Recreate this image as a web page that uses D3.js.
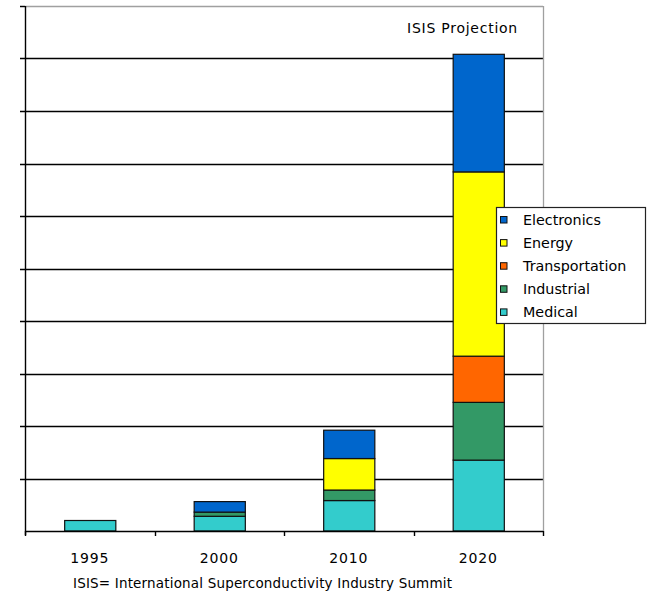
<!DOCTYPE html>
<html>
<head>
<meta charset="utf-8">
<script src="https://cdn.jsdelivr.net/npm/d3@7"></script>
<style>
  html, body { margin: 0; padding: 0; background: #fff; }
  svg { display: block; }
  text { font-family: "DejaVu Sans", Verdana, sans-serif; fill: #000; }
</style>
</head>
<body>
<svg id="chart" width="651" height="593"></svg>
<script>
// Market segments (bottom to top in each stack)
const segments = ["Medical", "Industrial", "Transportation", "Energy", "Electronics"];
const years = ["1995", "2000", "2010", "2020"];

// Segment values per year (US$ billions)
const medical        = [2.0, 2.8, 5.8, 13.5];
const industrial     = [0.0, 0.8, 2.0, 11.0];
const transportation = [0.0, 0.0, 0.0, 8.8];
const energy         = [0.0, 0.0, 6.0, 35.1];
const electronics    = [0.0, 2.0, 5.4, 22.4];

const colors = ["#33CCCC", "#339966", "#FF6600", "#FFFF00", "#0066CC"];
const legendOrder = ["Electronics", "Energy", "Transportation", "Industrial", "Medical"];
const yTicks = [0, 10, 20, 30, 40, 50, 60, 70, 80, 90, 100];

const rows = years.map((yr, i) => ({
  year: yr,
  Medical: medical[i],
  Industrial: industrial[i],
  Transportation: transportation[i],
  Energy: energy[i],
  Electronics: electronics[i]
}));

const svg = d3.select("#chart");
const plotLeft = 25, plotRight = 543, plotTop = 6, plotBottom = 531;

const xAxisScale = d3.scaleBand().domain(years).range([plotLeft, plotRight]).padding(0);
const xBar = d3.scaleBand().domain(years).range([plotLeft, plotRight])
  .paddingInner(0.605).paddingOuter(0.3025);
const y = d3.scaleLinear().domain([0, 100]).range([plotBottom, plotTop]);
const color = d3.scaleOrdinal().domain(segments).range(colors);

// Horizontal gridlines with short ticks left of the axis
svg.append("g").selectAll("line").data(yTicks.filter(t => t > 0)).join("line")
  .attr("x1", plotLeft - 5).attr("x2", plotRight)
  .attr("y1", d => Math.round(y(d)) + 0.5).attr("y2", d => Math.round(y(d)) + 0.5)
  .attr("stroke", d => d === 100 ? "#a0a0a0" : "#000")
  .attr("stroke-width", 1.3);
// left tick at the top is black
svg.append("line").attr("x1", plotLeft - 5).attr("x2", plotLeft)
  .attr("y1", Math.round(y(100)) + 0.5).attr("y2", Math.round(y(100)) + 0.5)
  .attr("stroke", "#000").attr("stroke-width", 1.3);

// Right frame edge
svg.append("line").attr("x1", plotRight + 0.5).attr("x2", plotRight + 0.5)
  .attr("y1", y(100)).attr("y2", y(0))
  .attr("stroke", "#a0a0a0").attr("stroke-width", 1.3);

// Stacked bars
const stacked = d3.stack().keys(segments)(rows);
svg.append("g").selectAll("g").data(stacked).join("g")
  .attr("fill", d => color(d.key))
  .selectAll("rect").data(d => d.filter(p => p[1] - p[0] > 0)).join("rect")
  .attr("x", d => xBar(d.data.year) + 0.5)
  .attr("width", xBar.bandwidth())
  .attr("y", d => y(d[1]))
  .attr("height", d => y(d[0]) - y(d[1]))
  .attr("stroke", "#111")
  .attr("stroke-width", 1.2);

// Y axis line
svg.append("line").attr("x1", plotLeft + 0.5).attr("x2", plotLeft + 0.5)
  .attr("y1", y(100)).attr("y2", y(0) + 4)
  .attr("stroke", "#000").attr("stroke-width", 1.4);

// X axis with ticks between categories
const xAxis = svg.append("g");
xAxis.append("line").attr("x1", plotLeft).attr("x2", plotRight)
  .attr("y1", plotBottom + 0.5).attr("y2", plotBottom + 0.5)
  .attr("stroke", "#000").attr("stroke-width", 1.4);
const boundaries = years.map(yr => xAxisScale(yr)).concat([plotRight]);
xAxis.selectAll("line.tick").data(boundaries).join("line").attr("class", "tick")
  .attr("x1", d => Math.round(d) + 0.5).attr("x2", d => Math.round(d) + 0.5)
  .attr("y1", plotBottom).attr("y2", plotBottom + 5)
  .attr("stroke", "#000").attr("stroke-width", 1.4);
xAxis.selectAll("text").data(years).join("text")
  .attr("x", d => xAxisScale(d) + xAxisScale.bandwidth() / 2)
  .attr("y", 563)
  .attr("text-anchor", "middle")
  .attr("font-size", 14)
  .attr("letter-spacing", 0.8)
  .text(d => d);

// Title inside plot
svg.append("text").attr("x", 407).attr("y", 33)
  .attr("font-size", 14).attr("letter-spacing", 0.75)
  .text("ISIS Projection");

// Footnote
svg.append("text").attr("x", 73).attr("y", 588)
  .attr("font-size", 13.5)
  .attr("textLength", 379).attr("lengthAdjust", "spacing")
  .text("ISIS= International Superconductivity Industry Summit");

// Legend
const lg = svg.append("g");
lg.append("rect").attr("x", 496.5).attr("y", 207.5).attr("width", 149).attr("height", 116)
  .attr("fill", "#fff").attr("stroke", "#222").attr("stroke-width", 1.2);
const item = lg.selectAll("g.item").data(legendOrder).join("g").attr("class", "item")
  .attr("transform", (d, i) => `translate(0, ${220 + i * 23.1})`);
item.append("rect").attr("x", 500.5).attr("y", -3.5).attr("width", 6.5).attr("height", 6.5)
  .attr("fill", d => color(d)).attr("stroke", "#111").attr("stroke-width", 1);
item.append("text").attr("x", 523).attr("y", 5)
  .attr("font-size", 14.3)
  .text(d => d);
</script>
</body>
</html>
